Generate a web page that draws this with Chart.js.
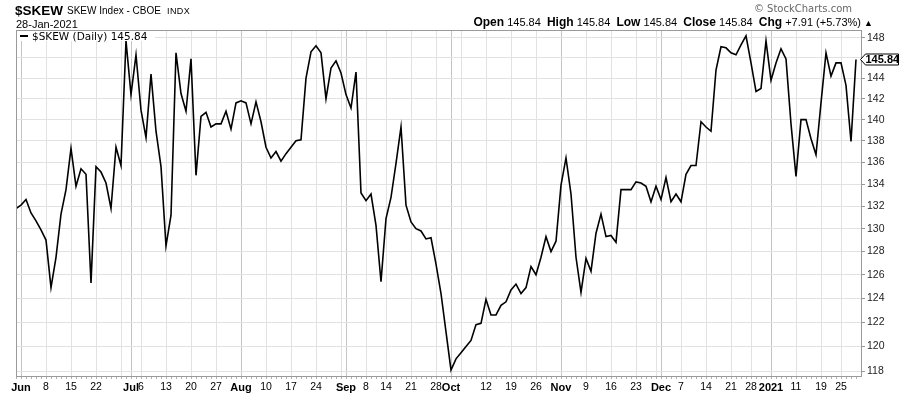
<!DOCTYPE html>
<html>
<head>
<meta charset="utf-8">
<script src="https://cdn.jsdelivr.net/npm/chart.js@4.4.0/dist/chart.umd.min.js"></script>
<style>
body{margin:0;background:#fff;width:900px;height:396px;overflow:hidden;position:relative;font-family:"Liberation Sans",Arial,sans-serif;}
#wrap{position:absolute;left:0;top:0;width:900px;height:396px;}
.t{position:absolute;white-space:nowrap;line-height:1;color:#000;}
.b{font-weight:bold;font-size:12px;}
#legend{position:absolute;left:17px;top:31px;width:138px;height:10px;background:#fff;}
#legend .dash{position:absolute;left:3px;top:4px;width:8px;height:2px;background:#000;}
#legend .txt{position:absolute;left:15px;top:0px;font:10.5px "DejaVu Sans",Verdana,sans-serif;line-height:1;white-space:nowrap;}
</style>
</head>
<body>
<div id="wrap"><canvas id="chart" width="900" height="396"></canvas></div>

<div class="t" style="left:15px;top:3px;font:bold 13.5px 'Liberation Sans',Arial">$SKEW</div>
<div class="t" style="left:67px;top:5px;font:10px 'Liberation Sans',Arial">SKEW Index - CBOE</div>
<div class="t" style="left:167px;top:6px;font:9px 'Liberation Sans',Arial;letter-spacing:.4px">INDX</div>
<div class="t" style="left:16px;top:18px;font:11px 'Liberation Sans',Arial">28-Jan-2021</div>
<div class="t" style="right:48px;top:3px;font:10px 'DejaVu Sans',sans-serif;color:#666">© StockCharts.com</div>
<div class="t" style="right:27px;top:15px;font:11px 'Liberation Sans',Arial"><span class="b">Open</span> 145.84 &nbsp;<span class="b">High</span> 145.84 &nbsp;<span class="b">Low</span> 145.84 &nbsp;<span class="b">Close</span> 145.84 &nbsp;<span class="b">Chg</span> +7.91 (+5.73%) <span style="font-size:9px">▲</span></div>
<div id="legend"><div class="dash"></div><div class="txt">$SKEW (Daily) 145.84</div></div>

<script>
// Daily closes, 29-May-2020 .. 28-Jan-2021 (one per trading day)
const values = [
  131.8,
  132.1,132.6,131.4,130.7,129.9,129.0,124.9,127.5,131.3,133.5,137.3,133.8,135.4,134.9,125.3,135.6,135.1,134.1,131.8,137.4,135.7,147.7,
  142.4,146.3,140.9,138.3,144.4,138.9,135.6,128.5,131.2,146.5,142.5,140.8,145.9,134.8,140.3,140.7,139.3,139.6,139.6,140.8,139.1,141.6,
  141.8,141.6,139.6,141.7,139.8,137.4,136.4,137.0,136.1,136.8,137.4,138.0,138.1,144.0,146.6,147.2,146.5,142.0,145.0,145.7,144.5,
  142.4,141.1,144.6,133.2,132.5,133.1,130.3,125.4,130.9,132.8,135.9,139.3,132.1,130.6,130.0,129.8,129.1,129.2,126.9,124.4,121.2,
  118.1,119.0,119.5,120.0,120.5,121.8,121.9,123.9,122.6,122.6,123.4,123.7,124.7,125.2,124.4,124.9,126.7,126.0,127.5,129.3,128.0,128.9,
  133.9,136.4,133.1,127.5,124.5,127.4,126.3,129.6,131.3,129.3,129.4,128.8,133.5,133.5,133.5,134.2,134.1,133.8,132.4,133.8,
  132.6,134.6,132.4,133.1,132.4,134.9,135.7,135.7,139.8,139.3,138.9,144.8,147.1,147.0,146.5,146.3,147.3,148.2,145.5,142.7,143.0,147.7,
  143.8,145.5,146.9,145.9,139.6,134.7,140.0,140.0,138.2,136.7,141.6,146.5,144.2,145.5,145.5,143.3,137.93,145.84
];

// x grid / tick positions (index into values) and their labels
const tickIdx = [1,6,11,16,21,23,25,30,35,40,45,50,55,60,65,66,70,74,79,84,87,89,94,99,104,109,114,119,124,128,129,133,138,143,147,151,156,161,165];
const tickLabels = ['Jun','8','15','22','','Jul','6','13','20','27','Aug','10','17','24','','Sep','8','14','21','28','Oct','','12','19','26','Nov','9','16','23','','Dec','7','14','21','28','2021','11','19','25'];
const monthIdx = [1,23,45,66,87,109,129,151];
const yTicks = [118,120,122,124,126,128,130,132,134,136,138,140,142,144,146,148];

const FONT = '"Liberation Sans", Arial, sans-serif';

// frame, daily tick dots and last value tag
const framePlugin = {
  id:'frame',
  afterDraw(chart){
    const {ctx, chartArea:a, scales:{x,y}} = chart;
    ctx.save();
    ctx.strokeStyle='#9a9a9a'; ctx.lineWidth=1;
    ctx.strokeRect(a.left+0.5, a.top+0.5, a.right-a.left-1, a.bottom-a.top-1);
    ctx.strokeStyle='#b0b0b0';
    values.forEach((v,i)=>{
      const px=Math.round(x.getPixelForValue(i))+0.5;
      ctx.beginPath(); ctx.moveTo(px,a.bottom); ctx.lineTo(px,a.bottom+2); ctx.stroke();
    });
    const last=values[values.length-1];
    const py=Math.round(y.getPixelForValue(last))+0.5;
    const x0=a.right-1.5;
    ctx.beginPath();
    ctx.moveTo(x0,py); ctx.lineTo(x0+5,py-5.5); ctx.lineTo(898.5,py-5.5); ctx.lineTo(898.5,py+5.5); ctx.lineTo(x0+5,py+5.5); ctx.closePath();
    ctx.fillStyle='#fff'; ctx.fill();
    ctx.strokeStyle='#000'; ctx.lineWidth=1; ctx.stroke();
    ctx.fillStyle='#000'; ctx.font='bold 11px '+FONT; ctx.textBaseline='middle';
    ctx.fillText(last.toFixed(2), x0+5, py+0.5);
    ctx.restore();
  }
};

new Chart(document.getElementById('chart'),{
  type:'line',
  data:{datasets:[{
    data:values.map((v,i)=>({x:i,y:v})),
    borderColor:'#000',borderWidth:1.6,pointRadius:0,tension:0,fill:false
  }]},
  options:{
    responsive:false,animation:false,
    layout:{padding:{top:30,left:16,right:0,bottom:0}},
    plugins:{legend:{display:false},tooltip:{enabled:false}},
    scales:{
      x:{
        type:'linear',min:0,max:169.2,
        afterBuildTicks:s=>{s.ticks=tickIdx.map(v=>({value:v}));},
        afterFit:s=>{s.height=19;},
        border:{display:false},
        grid:{drawTicks:false,color:c=>monthIdx.includes(c.tick&&c.tick.value)?'#c4c4c4':'#e2e2e2'},
        ticks:{
          autoSkip:false,maxRotation:0,padding:4,color:'#000',
          font:c=>monthIdx.includes(c.tick&&c.tick.value)?{family:FONT,size:11,weight:'bold'}:{family:FONT,size:10.5},
          callback:v=>tickLabels[tickIdx.indexOf(v)] ?? ''
        }
      },
      y:{
        type:'logarithmic',position:'right',min:117.54,max:148.79,
        afterBuildTicks:s=>{s.ticks=yTicks.map(v=>({value:v}));},
        afterFit:s=>{s.width=38;},
        border:{display:false},
        grid:{color:'#e2e2e2',tickLength:3,tickColor:'#999'},
        ticks:{padding:2,color:'#222',font:{family:FONT,size:10.5},callback:v=>v===146?'':String(v)}
      }
    }
  },
  plugins:[framePlugin]
});
</script>
</body>
</html>
